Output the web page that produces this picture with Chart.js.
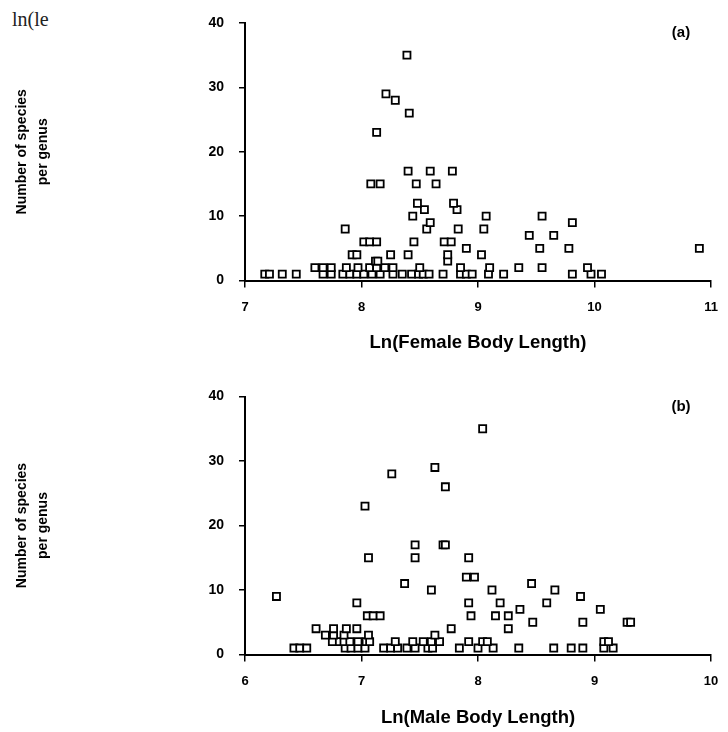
<!DOCTYPE html>
<html>
<head>
<meta charset="utf-8">
<script src="https://cdn.jsdelivr.net/npm/chart.js@4.4.1/dist/chart.umd.min.js"></script>
<style>
body { margin: 0; background: #fff; }
#wrap { position: relative; width: 728px; height: 732px; overflow: hidden; }
canvas { position: absolute; left: 0; }
#crop { position: absolute; left: 12px; top: 8px; font-family: 'Liberation Serif', serif; font-size: 20px; color: #222; }
</style>
</head>
<body>
<div id="wrap">
  <div id="crop">ln(le</div>
  <canvas id="chartA" width="728" height="366" style="top:0"></canvas>
  <canvas id="chartB" width="728" height="366" style="top:366px"></canvas>
</div>
<script>
// (a) ln(female body length) vs number of species per genus
var femaleLn = [
  7.17, 7.21, 7.32, 7.44, 7.67, 7.74, 7.84, 7.90, 7.96, 8.02, 8.09, 8.16, 8.27, 8.35, 8.43, 8.49, 8.53, 8.58, 8.70, 8.85, 8.90, 8.95, 9.09, 9.22, 9.81, 9.97, 10.06,
  7.60, 7.67, 7.74, 7.87, 7.97, 8.07, 8.13, 8.20, 8.27, 8.50, 8.85, 9.10, 9.35, 9.55, 9.94,
  8.12, 8.14, 8.74,
  7.92, 7.96, 8.25, 8.40, 8.74, 9.03,
  8.90, 9.53, 9.78, 10.90,
  8.02, 8.07, 8.13, 8.45, 8.71, 8.77,
  9.44, 9.65,
  7.86, 8.56, 8.83, 9.05,
  8.59, 9.81,
  8.44, 9.07, 9.55,
  8.54, 8.82,
  8.48, 8.79,
  8.08, 8.16, 8.47, 8.64,
  8.40, 8.59, 8.78,
  8.13, 8.41, 8.29, 8.21, 8.39
];
var femaleSpecies = [
  1, 1, 1, 1, 1, 1, 1, 1, 1, 1, 1, 1, 1, 1, 1, 1, 1, 1, 1, 1, 1, 1, 1, 1, 1, 1, 1,
  2, 2, 2, 2, 2, 2, 2, 2, 2, 2, 2, 2, 2, 2, 2,
  3, 3, 3,
  4, 4, 4, 4, 4, 4,
  5, 5, 5, 5,
  6, 6, 6, 6, 6, 6,
  7, 7,
  8, 8, 8, 8,
  9, 9,
  10, 10, 10,
  11, 11,
  12, 12,
  15, 15, 15, 15,
  17, 17, 17,
  23, 26, 28, 29, 35
];

// (b) ln(male body length) vs number of species per genus
var maleLn = [
  6.42, 6.47, 6.53, 6.86, 6.91, 6.97, 7.03, 7.19, 7.25, 7.31, 7.39, 7.46, 7.57, 7.61, 7.84, 8.00, 8.13, 8.35, 8.65, 8.80, 8.90, 9.08, 9.16,
  6.75, 6.81, 6.85, 6.90, 6.97, 7.04, 7.07, 7.29, 7.44, 7.53, 7.60, 7.67, 7.92, 8.04, 8.08, 9.08, 9.12,
  6.69, 6.76, 6.85, 7.06, 7.63,
  6.61, 6.76, 6.87, 6.96, 7.77, 8.26,
  8.47, 8.90, 9.28, 9.31,
  7.05, 7.10, 7.16, 7.94, 8.15, 8.26,
  8.36, 9.05,
  6.96, 7.92, 8.19, 8.59,
  6.27, 8.88,
  7.60, 8.12, 8.66,
  7.37, 8.46,
  7.90, 7.97,
  7.06, 7.46, 7.92,
  7.46, 7.70, 7.72,
  7.03, 7.72, 7.26, 7.63, 8.04
];
var maleSpecies = [
  1, 1, 1, 1, 1, 1, 1, 1, 1, 1, 1, 1, 1, 1, 1, 1, 1, 1, 1, 1, 1, 1, 1,
  2, 2, 2, 2, 2, 2, 2, 2, 2, 2, 2, 2, 2, 2, 2, 2, 2,
  3, 3, 3, 3, 3,
  4, 4, 4, 4, 4, 4,
  5, 5, 5, 5,
  6, 6, 6, 6, 6, 6,
  7, 7,
  8, 8, 8, 8,
  9, 9,
  10, 10, 10,
  11, 11,
  12, 12,
  15, 15, 15,
  17, 17, 17,
  23, 26, 28, 29, 35
];

var yTitle = ['Number of species', 'per genus'];

Chart.defaults.font.family = "'Liberation Sans', Arial, sans-serif";
Chart.defaults.color = '#000';

function makeChart(id, xs, ys, xMin, xMax, xTitle, panel, top, xHeight, titlePad) {
  var pts = xs.map(function (x, i) { return { x: x, y: ys[i] }; });
  return new Chart(document.getElementById(id), {
    type: 'scatter',
    data: {
      datasets: [{
        data: pts,
        pointStyle: 'rect',
        pointRadius: 5,
        pointBorderWidth: 1.8,
        pointBorderColor: '#000',
        pointBackgroundColor: '#fff'
      }]
    },
    options: {
      responsive: false,
      animation: false,
      layout: { padding: { top: top, right: 17, left: 0, bottom: 0 } },
      plugins: { legend: { display: false }, tooltip: { enabled: false } },
      scales: {
        x: {
          type: 'linear', min: xMin, max: xMax,
          ticks: { stepSize: 1, padding: 12, font: { size: 13, weight: 'bold' } },
          grid: { drawOnChartArea: false, drawTicks: true, tickLength: 7, color: '#000', lineWidth: 1.5 },
          border: { display: true, color: '#000', width: 2 },
          title: { display: true, text: xTitle, padding: { top: 0, bottom: titlePad }, font: { size: 18.5, weight: 'bold' } },
          afterFit: function (s) { s.height = xHeight; s.paddingLeft = 0; s.paddingRight = 0; }
        },
        y: {
          min: 0, max: 40,
          ticks: { stepSize: 10, padding: 15, font: { size: 14, weight: 'bold' } },
          grid: { drawOnChartArea: false, drawTicks: true, tickLength: 6, color: '#000', lineWidth: 1.5 },
          border: { display: true, color: '#000', width: 2 },
          title: { display: true, text: yTitle, padding: { top: 12 }, font: { size: 14, weight: 'bold', lineHeight: 1.5 } },
          afterFit: function (s) { s.width = 245; s.paddingTop = 0; s.paddingBottom = 0; }
        }
      }
    },
    plugins: [{
      id: 'panelLabel',
      afterDraw: function (chart) {
        var c = chart.ctx;
        c.save();
        c.font = "bold 15px 'Liberation Sans', Arial, sans-serif";
        c.fillStyle = '#000';
        c.textAlign = 'center';
        c.textBaseline = 'middle';
        c.fillText(panel, 681, top + 10);
        c.restore();
      }
    }]
  });
}

makeChart('chartA', femaleLn, femaleSpecies, 7, 11, 'Ln(Female Body Length)', '(a)', 23, 85.5, 12);
makeChart('chartB', maleLn, maleSpecies, 6, 10, 'Ln(Male Body Length)', '(b)', 30.5, 77.5, 3);
</script>
</body>
</html>
